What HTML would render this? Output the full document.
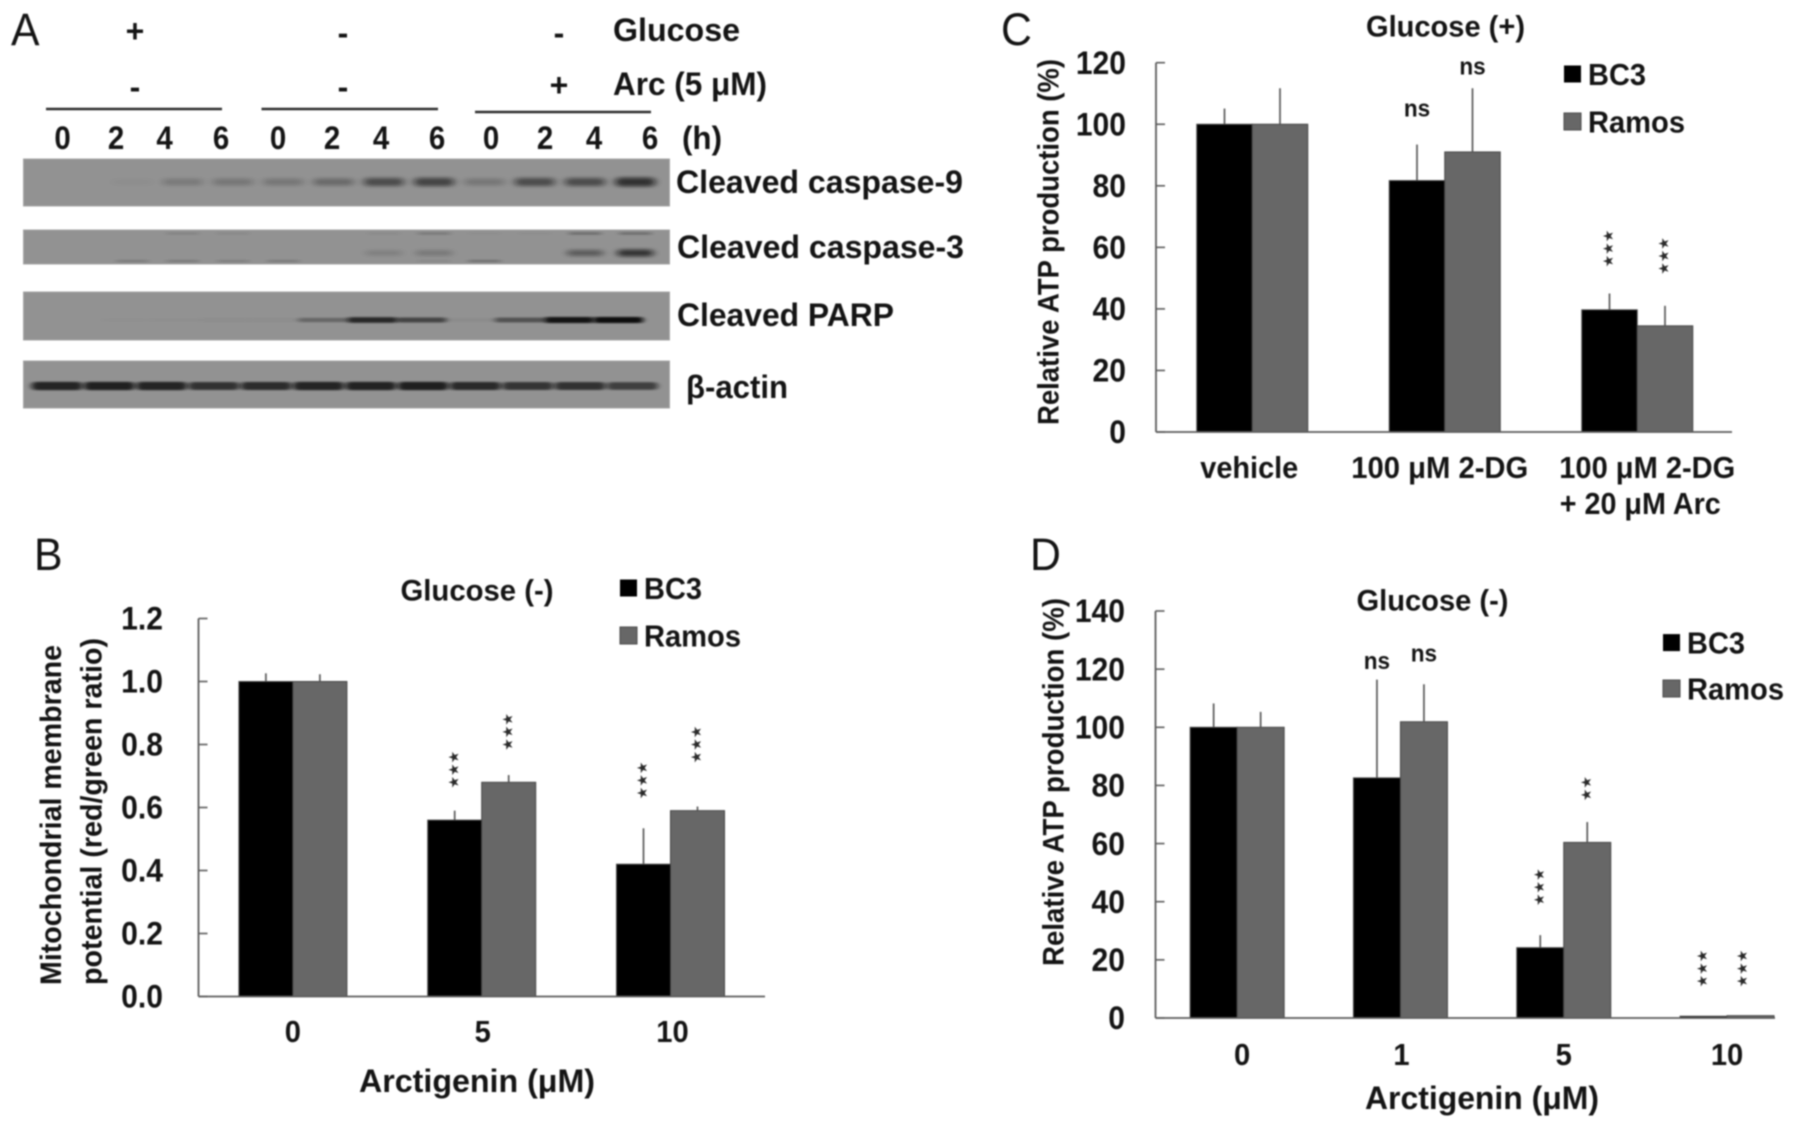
<!DOCTYPE html>
<html lang="en">
<head>
<meta charset="utf-8">
<title>Arctigenin figure panels A to D</title>
<style>
  html, body { margin: 0; padding: 0; background: #fff; width: 1795px; height: 1128px; overflow: hidden; }
  svg { display: block; filter: blur(0.7px); }
  text { font-family: "Liberation Sans", "DejaVu Sans", sans-serif; fill: #141414; }
</style>
</head>
<body>
<svg id="figure" xmlns="http://www.w3.org/2000/svg" width="1795" height="1128" viewBox="0 0 1795 1128">
  <defs>
    <filter id="band-blur" x="-30%" y="-200%" width="160%" height="500%"><feGaussianBlur stdDeviation="3.6 1.7"/></filter>
    <filter id="thin-band-blur" x="-30%" y="-200%" width="160%" height="500%"><feGaussianBlur stdDeviation="2.8 0.9"/></filter>
  </defs>
  <rect width="1795" height="1128" fill="#fff"/>
</svg>
<script>
// ---------- Panel A: blot band intensities per lane (0 to 1) ----------
const laneLabels = ['0','2','4','6','0','2','4','6','0','2','4','6'];
const caspase9Bands = [0, 0.03, 0.18, 0.2, 0.2, 0.3, 0.52, 0.58, 0.2, 0.52, 0.52, 0.72];
const caspase3MainBands = [0, 0, 0, 0, 0, 0, 0.14, 0.2, 0, 0, 0.42, 0.72];
const caspase3TopBands = [0, 0, 0.12, 0.08, 0, 0, 0.06, 0.2, 0.04, 0.04, 0.3, 0.3];
const caspase3BottomBands = [0, 0.2, 0.2, 0.16, 0.2, 0, 0, 0.08, 0.28, 0, 0, 0];
const parpBands = [0, 0.01, 0.02, 0.03, 0.03, 0.32, 0.8, 0.58, 0.05, 0.48, 0.95, 1];
const actinBands = [0.82, 0.85, 0.82, 0.72, 0.76, 0.82, 0.84, 0.86, 0.78, 0.7, 0.72, 0.62];

// ---------- Panel B ----------
const panelBCategories = ['0', '5', '10'];
const panelBTickValues = [0, 0.2, 0.4, 0.6, 0.8, 1.0, 1.2];
const panelBTickLabels = ['0.0', '0.2', '0.4', '0.6', '0.8', '1.0', '1.2'];
const panelBBc3 = [1.0, 0.56, 0.42];
const panelBRamos = [1.0, 0.68, 0.59];
const panelBBc3Err = [0.026, 0.03, 0.114];
const panelBRamosErr = [0.023, 0.023, 0.013];
const panelBBc3Marks = ['', '★★★', '★★★'];
const panelBRamosMarks = ['', '★★★', '★★★'];
const panelBBc3MarkAt = [0, 0.72, 0.686];
const panelBRamosMarkAt = [0, 0.84, 0.80];

// ---------- Panel C ----------
const panelCCategories = [['vehicle'], ['100 μM 2-DG'], ['100 μM 2-DG', '+ 20 μM Arc']];
const panelCTickValues = [0, 20, 40, 60, 80, 100, 120];
const panelCTickLabels = ['0', '20', '40', '60', '80', '100', '120'];
const panelCBc3 = [100, 81.7, 39.7];
const panelCRamos = [100, 91, 34.5];
const panelCBc3Err = [5.1, 11.7, 5.3];
const panelCRamosErr = [11.7, 20.7, 6.5];
const panelCBc3Marks = ['', 'ns', '★★★'];
const panelCRamosMarks = ['', 'ns', '★★★'];
const panelCBc3MarkAt = [0, 105.2, 59.6];
const panelCRamosMarkAt = [0, 118.9, 57.2];

// ---------- Panel D ----------
const panelDCategories = ['0', '1', '5', '10'];
const panelDTickValues = [0, 20, 40, 60, 80, 100, 120, 140];
const panelDTickLabels = ['0', '20', '40', '60', '80', '100', '120', '140'];
const panelDBc3 = [100, 82.6, 24.2, 0.6];
const panelDRamos = [100, 101.9, 60.4, 0.8];
const panelDBc3Err = [8.2, 33.8, 4.3, 0];
const panelDRamosErr = [5.3, 12.9, 7, 0];
const panelDBc3Marks = ['', 'ns', '★★★', '★★★'];
const panelDRamosMarks = ['', 'ns', '★★', '★★★'];
const panelDBc3MarkAt = [0, 123, 45, 17];
const panelDRamosMarkAt = [0, 125.5, 78.9, 17];

const NS = 'http://www.w3.org/2000/svg';
const root = document.getElementById('figure');

function mk(parent, tag, attrs) {
  const e = document.createElementNS(NS, tag);
  for (const k in attrs) e.setAttribute(k, attrs[k]);
  parent.appendChild(e);
  return e;
}

// Text positioned by its visual vertical centre; len fixes the width, squeeze narrows the glyphs
function txt(parent, s, x, cy, size, o) {
  o = o || {};
  const attrs = {
    x: x,
    y: cy + size * 0.35,
    'font-size': size,
    'font-weight': o.weight || 'bold',
    'text-anchor': o.anchor || 'start'
  };
  if (o.len) { attrs.textLength = o.len; attrs.lengthAdjust = 'spacingAndGlyphs'; }
  const e = mk(parent, 'text', attrs);
  e.textContent = s;
  if (o.squeeze) {
    e.setAttribute('textLength', e.getComputedTextLength() * o.squeeze);
    e.setAttribute('lengthAdjust', 'spacingAndGlyphs');
  }
  return e;
}

function vtxt(parent, s, cx, cy, size, len) {
  const e = mk(parent, 'text', {
    transform: 'translate(' + (cx + size * 0.35) + ',' + cy + ') rotate(-90)',
    'font-size': size,
    'font-weight': 'bold',
    'text-anchor': 'middle',
    textLength: len,
    lengthAdjust: 'spacingAndGlyphs'
  });
  e.textContent = s;
  return e;
}

function panelLetter(s, x, cy) {
  const e = txt(root, s, x, cy, 45, { weight: 'normal', squeeze: 0.95 });
  
  
}

/* ---------- Panel A ---------- */
function drawPanelA() {
  const g = mk(root, 'g', {});
  
  

  const heads = [
    ['+', 135, 31], ['-', 343, 33], ['-', 559, 33],
    ['-', 135, 87], ['-', 343, 87], ['+', 559, 85]
  ];
  heads.forEach(function (h) {
    const e = txt(g, h[0], h[1], h[2], 32, { anchor: 'middle' });
    
    
  });
  const glucoseLabel = txt(g, 'Glucose', 613, 30, 32, { len: 127 });
  
  
  const arcLabel = txt(g, 'Arc (5 μM)', 613, 84, 32, { len: 154 });
  
  

  [[46, 222, 109], [261.5, 438, 109], [475, 651, 112]].forEach(function (l) {
    const e = mk(g, 'line', { x1: l[0], x2: l[1], y1: l[2], y2: l[2], stroke: '#2e2e2e', 'stroke-width': 2.4 });
    
    
  });

  const labelX = [62.5, 116, 164.5, 221, 278, 332, 381, 437, 491, 545, 594, 650];
  laneLabels.forEach(function (s, i) {
    const e = txt(g, s, labelX[i], 138, 32, { anchor: 'middle', squeeze: 0.92 });
    
    
  });
  const hourLabel = txt(g, '(h)', 682, 138, 32, { len: 40 });
  
  

  function strip(name, y, h) {
    const e = mk(g, 'rect', { x: 23.5, y: y, width: 646, height: h, fill: '#929292', stroke: '#a6a6a6', 'stroke-width': 1 });
    
    
  }
  function bands(values, lane0, laneStep, cy, w, h, name, filter) {
    values.forEach(function (v, i) {
      if (v <= 0) return;
      const bandH = h * (0.65 + 0.45 * v);
      const e = mk(g, 'rect', {
        x: lane0 + laneStep * i - w / 2,
        y: cy - bandH / 2,
        width: w,
        height: bandH,
        rx: bandH / 2,
        fill: '#080808',
        opacity: v,
        filter: 'url(#' + filter + ')'
      });
      
      
    });
  }

  strip('caspase-9-strip', 159, 47);
  bands(caspase9Bands, 82, 50.3, 182, 40, 9, 'caspase-9-band', 'band-blur');
  strip('caspase-3-strip', 230, 34);
  bands(caspase3TopBands, 82, 50.3, 233.5, 32, 3, 'caspase-3-top-band', 'thin-band-blur');
  bands(caspase3MainBands, 82, 50.3, 253, 36, 7, 'caspase-3-band', 'band-blur');
  bands(caspase3BottomBands, 82, 50.3, 261, 32, 2.5, 'caspase-3-bottom-band', 'thin-band-blur');
  strip('parp-strip', 292, 48);
  bands(parpBands, 77, 49.2, 320, 50, 5.5, 'parp-band', 'thin-band-blur');
  strip('actin-strip', 361, 47);
  bands(actinBands, 57, 52.3, 386, 51, 8, 'actin-band', 'thin-band-blur');

  const rowLabels = [
    ['Cleaved caspase-9', 676, 182, 287, 'caspase-9-label'],
    ['Cleaved caspase-3', 677, 247, 287, 'caspase-3-label'],
    ['Cleaved PARP', 677, 315, 217, 'parp-label'],
    ['β-actin', 686, 387, 102, 'actin-label']
  ];
  rowLabels.forEach(function (r) {
    const e = txt(g, r[0], r[1], r[2], 32, { len: r[3] });
    
    
  });
}

/* ---------- Bar panels ---------- */
function drawBars(c) {
  const g = mk(root, 'g', {});
  
  

  const xBand = function (i) { return c.left + c.step * (i + 0.5); };
  const yVal = function (v) { return c.y0 - (v / c.max) * (c.y0 - c.yTop); };

  const series = [
    { key: 'bc3', vals: c.bc3, err: c.bc3Err, marks: c.bc3Marks, at: c.bc3At, fill: '#000', edge: '#4a4a4a', side: -1 },
    { key: 'ramos', vals: c.ramos, err: c.ramosErr, marks: c.ramosMarks, at: c.ramosAt, fill: '#676767', edge: '#464646', side: 1 }
  ];

  series.forEach(function (s) {
    s.vals.forEach(function (v, i) {
      const center = xBand(i) + s.side * c.barW / 2;
      const barEl = mk(g, 'rect', {
        x: center - c.barW / 2,
        y: yVal(v),
        width: c.barW,
        height: c.y0 - yVal(v),
        fill: s.fill,
        stroke: s.edge,
        'stroke-width': 1
      });
      
      

      if (s.err[i] > 0) {
        const errEl = mk(g, 'line', {
          x1: center,
          x2: center,
          y1: yVal(v),
          y2: yVal(v + s.err[i]),
          stroke: '#5a5a5a',
          'stroke-width': 1.7
        });
        
        
      }

      const m = s.marks[i];
      if (m === 'ns') {
        const nsEl = txt(g, m, center, yVal(s.at[i]), 24, { anchor: 'middle', squeeze: 0.94 });
        
        
      } else if (m) {
        const starShift = (s.key === 'ramos' && c.lastRamosStarShift && i === s.vals.length - 1) ? c.lastRamosStarShift : 0;
        const starEl = mk(g, 'text', {
          transform: 'translate(' + (center + 3.6 + starShift) + ',' + yVal(s.at[i]) + ') rotate(-90)',
          'font-size': 14,
          'text-anchor': 'middle',
          style: 'font-family:"DejaVu Sans",sans-serif;fill:#2a2a2a'
        });
        starEl.textContent = m;
        
        
      }
    });
  });

  const yAxis = mk(g, 'line', { x1: c.left, x2: c.left, y1: c.yTop, y2: c.y0, stroke: '#5c5c5c', 'stroke-width': 1.8 });
  
  
  const xAxis = mk(g, 'line', { x1: c.left, x2: c.axisEnd, y1: c.y0, y2: c.y0, stroke: '#5c5c5c', 'stroke-width': 1.8 });
  
  

  c.tickValues.forEach(function (v, i) {
    const tick = mk(g, 'line', { x1: c.left, x2: c.left + 9, y1: yVal(v), y2: yVal(v), stroke: '#5c5c5c', 'stroke-width': 1.6 });
    
    
    const lab = txt(g, c.tickLabels[i], c.tickRight, yVal(v), 32, { anchor: 'end', squeeze: 0.94 });
    
    
  });

  c.categories.forEach(function (cat, i) {
    const lines = Array.isArray(cat) ? cat : [cat];
    lines.forEach(function (line, j) {
      const opts = c.catLen ? { anchor: 'middle', len: c.catLen[i][j] } : { anchor: 'middle', squeeze: 0.94 };
      const lab = txt(g, line, xBand(i) + c.catDx[i] + (j === 1 ? -7 : 0), c.catY + j * 36, 31, opts);
      
      
    });
  });

  const title = txt(g, c.title, c.titleX, c.titleY, 30, { len: c.titleLen });
  
  

  c.yTitles.forEach(function (t) {
    const e = vtxt(g, t[0], t[1], t[2], 30, t[3]);
    
    
  });

  if (c.xTitle) {
    const xt = txt(g, c.xTitle[0], c.xTitle[1], c.xTitle[2], 32, { len: c.xTitle[3] });
    
    
  }

  const k1 = mk(g, 'rect', { x: c.legendX, y: c.legendY1 - 8.5, width: 17, height: 17, fill: '#000' });
  
  
  const t1 = txt(g, 'BC3', c.legendX + 24, c.legendY1, 31, { len: 58 });
  
  
  const k2 = mk(g, 'rect', { x: c.legendX, y: c.legendY2 - 8.5, width: 17, height: 17, fill: '#676767', stroke: '#4a4a4a', 'stroke-width': 1 });
  
  
  const t2 = txt(g, 'Ramos', c.legendX + 24, c.legendY2, 31, { len: 97 });
  
  
}

panelLetter('A', 11, 29);
panelLetter('B', 34, 554);
panelLetter('C', 1001, 29);
panelLetter('D', 1030, 554);

drawPanelA();

drawBars({
  id: 'panel-b',
  left: 198.5, step: 188.8, barW: 54, axisEnd: 765, y0: 996.5, yTop: 618.5, max: 1.2,
  tickRight: 163, catY: 1031, catDx: [0, 1, 2],
  categories: panelBCategories, tickValues: panelBTickValues, tickLabels: panelBTickLabels,
  bc3: panelBBc3, ramos: panelBRamos, bc3Err: panelBBc3Err, ramosErr: panelBRamosErr,
  bc3Marks: panelBBc3Marks, ramosMarks: panelBRamosMarks, bc3At: panelBBc3MarkAt, ramosAt: panelBRamosMarkAt,
  title: 'Glucose (-)', titleX: 400.5, titleY: 590, titleLen: 153,
  yTitles: [['Mitochondrial membrane', 50.5, 815, 340], ['potential (red/green ratio)', 91, 811.5, 347]],
  xTitle: ['Arctigenin (μM)', 359, 1081, 236],
  legendX: 620, legendY1: 588, legendY2: 635.5
});

drawBars({
  id: 'panel-c',
  left: 1156, step: 192.5, barW: 55.5, axisEnd: 1732, y0: 432, yTop: 62.7, max: 120,
  tickRight: 1126, catY: 467, catDx: [-3, -5, 10], catLen: [[98], [177], [176, 161]],
  categories: panelCCategories, tickValues: panelCTickValues, tickLabels: panelCTickLabels,
  bc3: panelCBc3, ramos: panelCRamos, bc3Err: panelCBc3Err, ramosErr: panelCRamosErr,
  bc3Marks: panelCBc3Marks, ramosMarks: panelCRamosMarks, bc3At: panelCBc3MarkAt, ramosAt: panelCRamosMarkAt,
  title: 'Glucose (+)', titleX: 1366, titleY: 26, titleLen: 159,
  yTitles: [['Relative ATP production (%)', 1048, 242, 366]],
  xTitle: null,
  legendX: 1564, legendY1: 74, legendY2: 121.5
});

drawBars({
  id: 'panel-d',
  left: 1155.5, step: 163.3, barW: 47, axisEnd: 1775, y0: 1018, yTop: 611, max: 140,
  tickRight: 1125, catY: 1054, catDx: [5, 1, 0, 0],
  lastRamosStarShift: -7,
  categories: panelDCategories, tickValues: panelDTickValues, tickLabels: panelDTickLabels,
  bc3: panelDBc3, ramos: panelDRamos, bc3Err: panelDBc3Err, ramosErr: panelDRamosErr,
  bc3Marks: panelDBc3Marks, ramosMarks: panelDRamosMarks, bc3At: panelDBc3MarkAt, ramosAt: panelDRamosMarkAt,
  title: 'Glucose (-)', titleX: 1356.5, titleY: 600, titleLen: 152,
  yTitles: [['Relative ATP production (%)', 1053, 782, 368]],
  xTitle: ['Arctigenin (μM)', 1365, 1098, 234],
  legendX: 1663, legendY1: 642.6, legendY2: 688.5
});
</script>
</body>
</html>
